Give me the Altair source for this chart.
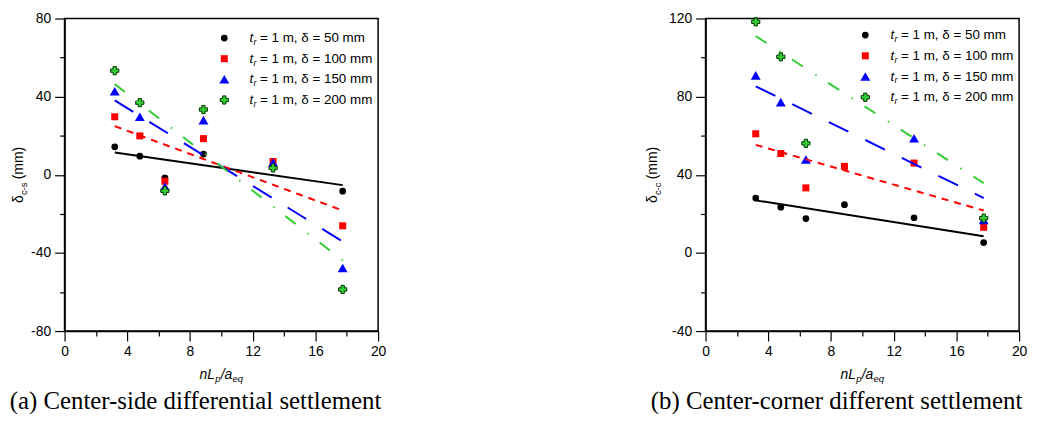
import altair as alt
import pandas as pd

# ---------------- data ----------------
x_vals = [3.2, 4.8, 6.4, 8.86, 13.3, 17.74]
series = ["50", "100", "150", "200"]

# (a) centre-side differential settlement (mm)
a_d50 = [14.3, 9.5, -1.6, 10.6, 4.0, -8.4]
a_d100 = [29.7, 19.9, -3.3, 18.5, 6.8, -26.1]
a_d150 = [42.8, 29.7, -6.0, 28.0, 6.3, -47.7]
a_d200 = [53.3, 36.9, -8.2, 33.4, 3.5, -58.7]
a_fit_start = [11.4, 24.9, 38.1, 46.4]
a_fit_end = [-5.3, -18.3, -34.2, -43.8]

# (b) centre-corner differential settlement (mm)
b_d50 = [28.1, 23.4, 17.6, 24.7, 18.0, 5.3]
b_d100 = [61.0, 50.9, 33.3, 44.3, 46.0, 13.1]
b_d150 = [90.9, 77.2, 47.8, None, 58.7, 16.9]
b_d200 = [118.3, 100.4, 56.1, None, None, 17.8]
b_fit_start = [26.9, 55.3, 85.3, 111.0]
b_fit_end = [8.5, 21.7, 28.1, 35.7]
fit_x = [3.2, 17.74]

x_ticks = list(range(0, 21, 2))
a_y_ticks = list(range(-80, 81, 20))
b_y_ticks = list(range(-40, 121, 20))

# ---------------- layout / style ----------------
PW, PH = 316, 315
B_OFF = 646
SANS = "Liberation Sans"
SERIF = "Liberation Serif"

styles = [
    dict(shape="circle", fill="#000000", size=46, line="#000000", dash=None),
    dict(shape="square", fill="#ff0000", size=50, line="#ff0000", dash=[7, 6]),
    dict(shape="triangle-up", fill="#0000ff", size=100, line="#0000ff", dash=[22, 19]),
    dict(shape="cross", fill="#33cc33", size=68, line="#33cc33", dash=[13, 15, 1.5, 14],
         stroke="#003300"),
]


def txt(text, x, y, size=13, font=SANS, style="normal", align="left",
        baseline="middle", angle=0):
    return alt.Chart(pd.DataFrame({"t": [text]})).mark_text(
        align=align, baseline=baseline, font=font, fontSize=size,
        fontStyle=style, angle=angle, color="black"
    ).encode(text="t:N", x=alt.value(x), y=alt.value(y))


def panel(vals, fit_s, fit_e, y_dom, y_ticks, off, sub, caption, leg_y0, leg_dy, ytx):
    tick_cond = lambda m: {"condition": {"test": f"datum.value % {m} === 0", "value": 10},
                           "value": 5}
    xaxis = alt.Axis(values=x_ticks, title=None, grid=False,
                     labelExpr="datum.value % 4 === 0 ? '' + datum.value : ''",
                     tickSize=tick_cond(4), labelPadding=4, labelOverlap=False,
                     labelFlush=False, orient="bottom",
                     domainColor="black", domainWidth=1.5, tickColor="black",
                     tickWidth=1.2, labelFont=SANS, labelFontSize=14,
                     labelColor="black")
    yaxis = alt.Axis(values=y_ticks, title=None, grid=False,
                     labelExpr="datum.value % 40 === 0 ? '' + datum.value : ''",
                     tickSize=tick_cond(40), labelPadding=4, labelOverlap=False,
                     labelFlush=False, orient="left", offset=-off,
                     domainColor="black", domainWidth=1.5, tickColor="black",
                     tickWidth=1.2, labelFont=SANS, labelFontSize=14,
                     labelColor="black")
    xs = alt.Scale(domain=[0, 20], range=[off, off + PW], nice=False, zero=False)
    ys = alt.Scale(domain=y_dom, nice=False, zero=False)

    def X(f):
        return alt.X(f"{f}:Q", scale=xs, axis=xaxis)

    def Y(f):
        return alt.Y(f"{f}:Q", scale=ys, axis=yaxis)

    rows = []
    for s, v in zip(series, vals):
        for xv, yv in zip(x_vals, v):
            if yv is not None:
                rows.append({"x": xv, "y": yv, "s": s})
    pts = pd.DataFrame(rows)
    fit = pd.DataFrame([{"x": fx, "y": fy, "s": s}
                        for s, a, b in zip(series, fit_s, fit_e)
                        for fx, fy in zip(fit_x, [a, b])])
    frame = pd.DataFrame({"x0": [0], "x1": [20], "y0": [y_dom[0]], "y1": [y_dom[1]]})

    layers = [alt.Chart(frame).mark_rect(fillOpacity=0, stroke="black", strokeWidth=1.5)
              .encode(x=X("x0"), x2="x1:Q", y=Y("y0"), y2="y1:Q")]
    for s, st in zip(series, styles):
        kw = dict(shape=st["shape"], filled=True, fill=st["fill"], size=st["size"], opacity=1)
        if "stroke" in st:
            kw.update(stroke=st["stroke"], strokeWidth=1)
        layers.append(alt.Chart(pts).transform_filter(f"datum.s == '{s}'")
                      .mark_point(**kw).encode(x=X("x"), y=Y("y")))
    for s, st in zip(series, styles):
        lkw = dict(color=st["line"], strokeWidth=2)
        if st["dash"]:
            lkw["strokeDash"] = st["dash"]
        layers.append(alt.Chart(fit).transform_filter(f"datum.s == '{s}'")
                      .mark_line(**lkw).encode(x=X("x"), y=Y("y")))

    # legend
    for i, (s, st) in enumerate(zip(series, styles)):
        yy = leg_y0 + i * leg_dy
        kw = dict(shape=st["shape"], filled=True, fill=st["fill"], size=st["size"], opacity=1)
        if "stroke" in st:
            kw.update(stroke=st["stroke"], strokeWidth=1)
        layers.append(alt.Chart(pd.DataFrame({"s": [s]})).mark_point(**kw)
                      .encode(x=alt.value(off + 161), y=alt.value(yy)))
        tx = off + 186.5
        layers.append(txt("t", tx, yy, 13.5, style="italic"))
        layers.append(txt("r", tx + 3.8, yy + 4, 9, style="italic"))
        layers.append(txt(f"= 1 m, \u03b4 = {s} mm", tx + 10.5, yy, 13.5))

    # y title
    layers.append(txt("\u03b4", off + ytx, 186, 14, angle=270))
    layers.append(txt(sub, off + ytx + 5, 178, 9.5, angle=270))
    layers.append(txt("(mm)", off + ytx, 162, 14, angle=270))
    # x title
    layers.append(txt("nL", off + 136, 363, 14, style="italic", baseline="alphabetic"))
    layers.append(txt("p", off + 151.8, 366.5, 9.5, style="italic", baseline="alphabetic"))
    layers.append(txt("/a", off + 157.3, 363, 14, style="italic", baseline="alphabetic"))
    layers.append(txt("eq", off + 169.2, 366.5, 9.5, style="italic", baseline="alphabetic"))
    # caption
    layers.append(txt(caption, off + 132, 394, 25, font=SERIF, align="center",
                      baseline="alphabetic"))
    return alt.layer(*layers)


pa = panel([a_d50, a_d100, a_d150, a_d200], a_fit_start, a_fit_end, [-80, 80],
           a_y_ticks, 0, "c-s", "(a) Center-side differential settlement", 19.7, 20.8, -46)
pb = panel([b_d50, b_d100, b_d150, b_d200], b_fit_start, b_fit_end, [-40, 120],
           b_y_ticks, B_OFF, "c-c", "(b) Center-corner different settlement", 16.7, 20.9, -53)

chart = alt.layer(pa, pb).resolve_scale(x="independent", y="independent").resolve_axis(
    x="independent", y="independent"
).properties(
    width=962, height=PH,
    autosize=alt.AutoSizeParams(type="none"),
    padding={"left": 57, "top": 9, "right": 14, "bottom": 82},
).configure_view(stroke=None)

chart.save("out.html", embed_options={"renderer": "svg", "actions": False})
